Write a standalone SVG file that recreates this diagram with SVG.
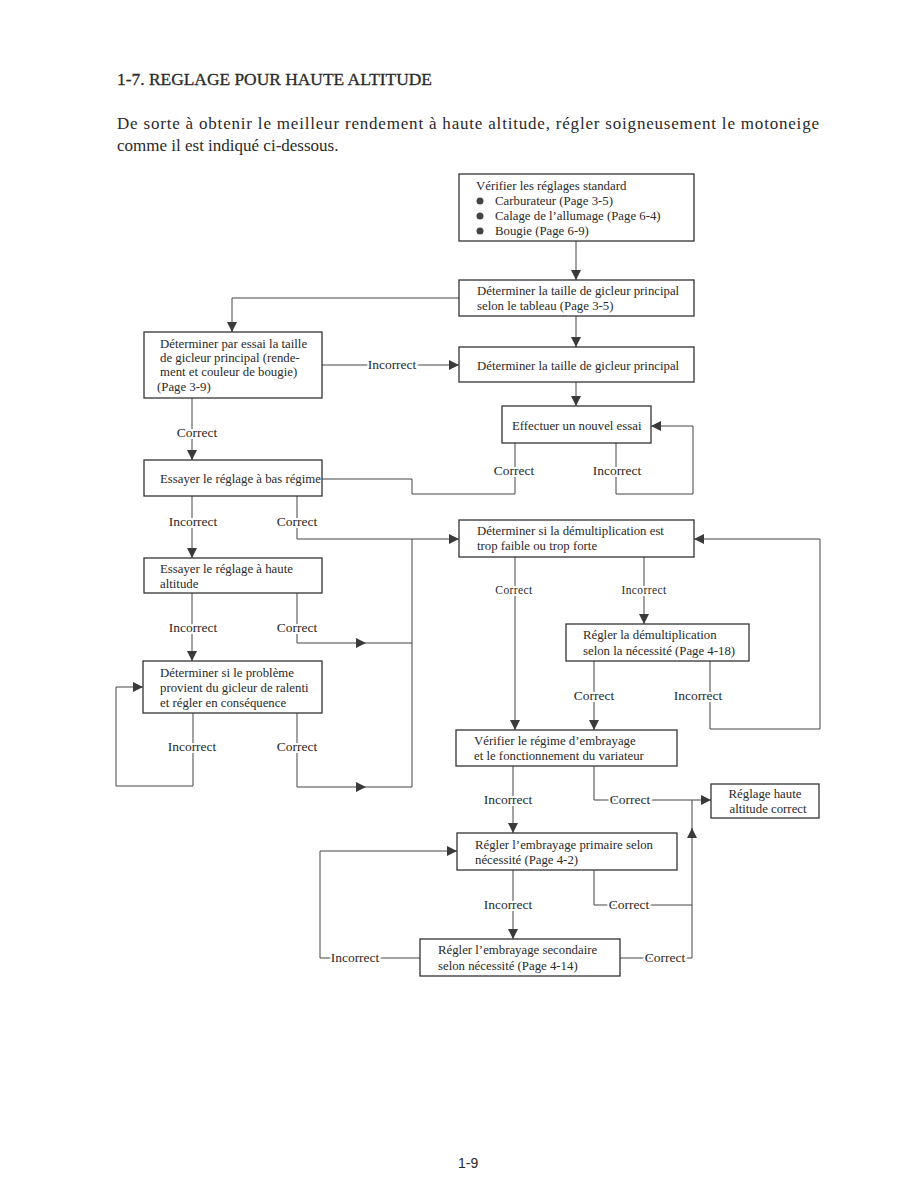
<svg xmlns="http://www.w3.org/2000/svg" width="918" height="1188" viewBox="0 0 918 1188">
<defs>
<style>
text{font-family:"Liberation Serif","Times New Roman",serif;fill:#2a2a2a}
.box rect{fill:#fff;stroke:#333;stroke-width:1.3}
.box text{font-size:12.8px}
.conn path{fill:none;stroke:#444;stroke-width:1}
.lbl{font-size:13.5px;stroke:#fff;stroke-width:4;paint-order:stroke;text-anchor:middle}
.sm{font-size:11.5px;letter-spacing:0.4px}
.a{marker-end:url(#arr)}
</style>
<marker id="arr" viewBox="0 0 10 10" refX="10" refY="5" markerWidth="11" markerHeight="10" markerUnits="userSpaceOnUse" orient="auto"><path d="M0,0 L10,5 L0,10 z" fill="#3a3a3a"/></marker>
</defs>
<rect width="918" height="1188" fill="#fff"/>
<text x="117" y="85" font-size="16.5" textLength="315" lengthAdjust="spacingAndGlyphs" stroke="#2a2a2a" stroke-width="0.3">1-7.  REGLAGE POUR HAUTE ALTITUDE</text>
<text x="117" y="129" font-size="17" textLength="702" lengthAdjust="spacing">De sorte à obtenir le meilleur rendement à haute altitude, régler soigneusement le motoneige</text>
<text x="117" y="151" font-size="17">comme il est indiqué ci-dessous.</text>

<g id="connectors" class="conn">
<path class="a" d="M576,241 V280"/>
<path class="a" d="M459,298 H232 V332"/>
<path class="a" d="M322,365 H459"/>
<path class="a" d="M576,316 V347"/>
<path class="a" d="M576,382 V406"/>
<path d="M515,443 V494 H412 V479 H322"/>
<path class="a" d="M616,443 V494 H693 V426 H651"/>
<path class="a" d="M192,398 V460"/>
<path class="a" d="M192,496 V558"/>
<path class="a" d="M297,496 V539 H459"/>
<path d="M412,539 V787"/>
<path class="a" d="M192,593 V661"/>
<path class="a" d="M297,593 V643 H366"/>
<path d="M366,643 H412"/>
<path d="M193,713 V786 H116 V687 H143" class="a"/>
<path class="a" d="M297,713 V787 H366"/>
<path d="M366,787 H412"/>
<path class="a" d="M644,557 V624"/>
<path class="a" d="M515,557 V730"/>
<path class="a" d="M594,661 V730"/>
<path class="a" d="M710,661 V729 H820 V539 H694"/>
<path class="a" d="M513,766 V833"/>
<path class="a" d="M594,766 V800 H711"/>
<path class="a" d="M513,870 V939"/>
<path d="M594,870 V905 H692"/>
<path class="a" d="M620,958 H692 V828"/>
<path d="M692,830 V800"/>
<path class="a" d="M420,958 H320 V851 H457"/>
<text class="lbl" x="392" y="369">Incorrect</text>
<text class="lbl" x="197" y="437">Correct</text>
<text class="lbl" x="514" y="475">Correct</text>
<text class="lbl" x="617" y="475">Incorrect</text>
<text class="lbl" x="193" y="526">Incorrect</text>
<text class="lbl" x="297" y="526">Correct</text>
<text class="lbl sm" x="514" y="594">Correct</text>
<text class="lbl sm" x="644" y="594">Incorrect</text>
<text class="lbl" x="193" y="632">Incorrect</text>
<text class="lbl" x="297" y="632">Correct</text>
<text class="lbl" x="594" y="700">Correct</text>
<text class="lbl" x="698" y="700">Incorrect</text>
<text class="lbl" x="192" y="751">Incorrect</text>
<text class="lbl" x="297" y="751">Correct</text>
<text class="lbl" x="508" y="804">Incorrect</text>
<text class="lbl" x="630" y="804">Correct</text>
<text class="lbl" x="508" y="909">Incorrect</text>
<text class="lbl" x="629" y="909">Correct</text>
<text class="lbl" x="665" y="962">Correct</text>
<text class="lbl" x="355" y="962">Incorrect</text>
</g>

<g id="n1" class="box"><rect x="459" y="174" width="235" height="67"/>
<text x="476" y="190">Vérifier les réglages standard</text>
<circle cx="480" cy="201" r="3.5" fill="#444"/><text x="495" y="205">Carburateur  (Page 3-5)</text>
<circle cx="480" cy="216" r="3.5" fill="#444"/><text x="495" y="220">Calage de l’allumage  (Page 6-4)</text>
<circle cx="480" cy="231" r="3.5" fill="#444"/><text x="495" y="235">Bougie  (Page 6-9)</text></g>
<g id="n2" class="box"><rect x="459" y="280" width="235" height="36"/>
<text x="477" y="295">Déterminer la taille de gicleur principal</text>
<text x="477" y="310">selon le tableau  (Page 3-5)</text></g>
<g id="n3" class="box"><rect x="144" y="332" width="178" height="66"/>
<text x="160" y="348">Déterminer par essai la taille</text>
<text x="160" y="362">de gicleur principal (rende-</text>
<text x="160" y="376">ment et couleur de bougie)</text>
<text x="157" y="391">(Page 3-9)</text></g>
<g id="n4" class="box"><rect x="459" y="347" width="235" height="35"/>
<text x="477" y="370">Déterminer la taille de gicleur principal</text></g>
<g id="n5" class="box"><rect x="502" y="406" width="149" height="37"/>
<text x="512" y="430">Effectuer un nouvel essai</text></g>
<g id="n6" class="box"><rect x="144" y="460" width="178" height="36"/>
<text x="160" y="483">Essayer le réglage à bas régime</text></g>
<g id="n7" class="box"><rect x="459" y="520" width="235" height="37"/>
<text x="477" y="535">Déterminer si la démultiplication est</text>
<text x="477" y="550">trop faible ou trop forte</text></g>
<g id="n8" class="box"><rect x="144" y="558" width="178" height="35"/>
<text x="160" y="573">Essayer le réglage à haute</text>
<text x="160" y="588">altitude</text></g>
<g id="n9" class="box"><rect x="566" y="624" width="183" height="37"/>
<text x="583" y="639">Régler la démultiplication</text>
<text x="583" y="655">selon la nécessité  (Page 4-18)</text></g>
<g id="n10" class="box"><rect x="143" y="661" width="179" height="52"/>
<text x="160" y="677">Déterminer si le problème</text>
<text x="160" y="692">provient du gicleur de ralenti</text>
<text x="160" y="707">et régler en conséquence</text></g>
<g id="n11" class="box"><rect x="456" y="730" width="221" height="36"/>
<text x="474" y="745">Vérifier le régime d’embrayage</text>
<text x="474" y="760">et le fonctionnement du variateur</text></g>
<g id="n12" class="box"><rect x="711" y="784" width="108" height="34"/>
<text x="765" y="798" text-anchor="middle">Réglage haute</text>
<text x="768" y="813" text-anchor="middle">altitude correct</text></g>
<g id="n13" class="box"><rect x="457" y="833" width="220" height="37"/>
<text x="475" y="849">Régler l’embrayage primaire selon</text>
<text x="475" y="864">nécessité  (Page 4-2)</text></g>
<g id="n14" class="box"><rect x="420" y="939" width="200" height="37"/>
<text x="438" y="954">Régler l’embrayage secondaire</text>
<text x="438" y="970">selon nécessité  (Page 4-14)</text></g>

<text x="458" y="1168" font-size="14" style="font-family:'Liberation Sans',Arial,sans-serif">1-9</text>
</svg>
